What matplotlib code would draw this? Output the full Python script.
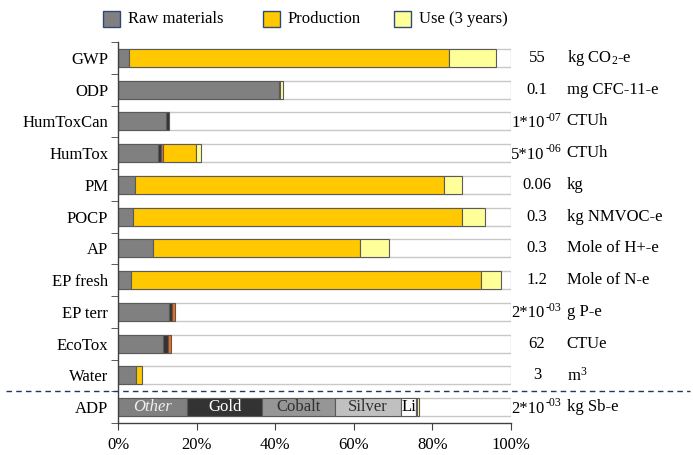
import matplotlib
matplotlib.use("Agg")
import matplotlib.pyplot as plt
from matplotlib.patches import Rectangle
from matplotlib.lines import Line2D
import numpy as np

plt.rcParams['font.family'] = ['Liberation Serif', 'DejaVu Serif']
plt.rcParams['mathtext.default'] = 'regular'

categories = ['GWP', 'ODP', 'HumToxCan', 'HumTox', 'PM', 'POCP', 'AP',
              'EP fresh', 'EP terr', 'EcoTox', 'Water', 'ADP']
raw_other  = [2.8, 40.9, 12.3, 10.3, 4.4, 3.7, 8.9, 3.4, 13.0, 11.5, 4.7, 17.6]
raw_gold   = [0.0, 0.3, 0.6, 0.6, 0.0, 0.0, 0.0, 0.0, 0.8, 1.2, 0.0, 19.1]
raw_cobalt = [0, 0, 0, 0, 0, 0, 0, 0, 0, 0, 0, 18.4]
raw_silver = [0, 0, 0, 0, 0, 0, 0, 0, 0, 0, 0, 16.8]
raw_li     = [0, 0, 0, 0, 0, 0, 0, 0, 0, 0, 0, 3.8]
transport  = [0.0, 0.0, 0.0, 0.6, 0.0, 0.0, 0.0, 0.0, 0.6, 0.9, 0.0, 0.0]
production = [81.4, 0.0, 0.0, 8.4, 78.5, 83.9, 52.8, 88.9, 0.0, 0.0, 1.4, 0.5]
use        = [12.1, 0.8, 0.0, 1.1, 4.7, 5.7, 7.3, 5.1, 0.0, 0.0, 0.0, 0.3]

# value labels: (base, exponent) ; exponent '' when none
value_base = ['55', '0.1', '1*10', '5*10', '0.06', '0.3', '0.3',
              '1.2', '2*10', '62', '3', '2*10']
value_exp = ['', '', '-07', '-06', '', '', '', '', '-03', '', '', '-03']
units = ['kg CO$_2$-e', 'mg CFC-11-e', 'CTUh', 'CTUh', 'kg', 'kg NMVOC-e',
         'Mole of H+-e', 'Mole of N-e', 'g P-e', 'CTUe', 'm$^3$', 'kg Sb-e']
adp_labels = ['Other', 'Gold', 'Cobalt', 'Silver', 'Li']
xticks = [0, 20, 40, 60, 80, 100]
legend_labels = ['Raw materials', 'Production', 'Use (3 years)']

C_RAW = '#808080'
C_GOLD = '#333333'
C_COB = '#969696'
C_SIL = '#C0C0C0'
C_LI = '#FFFFFF'
C_TR = '#FF6A10'
C_PROD = '#FFC800'
C_USE = '#FFFF99'
EDGE = '#5A5A5A'
FS = 12

W, H = 693, 455
fig = plt.figure(figsize=(W/100, H/100), dpi=100)
ax = fig.add_axes([118/W, 1-423/H, 393/W, 381/H])

y = np.arange(len(categories))
h = 0.57
ax.barh(y, [100]*len(y), height=h, color='white', edgecolor='#C8C8C8', linewidth=1.0, zorder=1)

series = [(raw_other, C_RAW), (raw_gold, C_GOLD), (raw_cobalt, C_COB),
          (raw_silver, C_SIL), (raw_li, C_LI), (transport, C_TR),
          (production, C_PROD), (use, C_USE)]
left = np.zeros(len(y))
for vals, col in series:
    v = np.array(vals, dtype=float)
    mask = v > 0
    ax.barh(y[mask], v[mask], left=left[mask], height=h, color=col,
            edgecolor=EDGE, linewidth=0.8, zorder=2)
    left += v

i = categories.index('ADP')
segs = [raw_other[i], raw_gold[i], raw_cobalt[i], raw_silver[i], raw_li[i]]
start = 0
txt_style = [dict(color='#F0F0F0', style='italic'), dict(color='white'),
             dict(color='#303030'), dict(color='#303030'), dict(color='black')]
for lab, w, st in zip(adp_labels, segs, txt_style):
    if lab == 'Li':
        ax.text(start + 0.2, y[i], lab, ha='left', va='center', fontsize=FS, zorder=3, **st)
    else:
        ax.text(start + w/2, y[i], lab, ha='center', va='center', fontsize=FS, zorder=3, **st)
    start += w

ax.set_xlim(0, 100)
ax.set_ylim(len(y) - 0.5, -0.5)
ax.set_xticks(xticks)
ax.set_xticklabels([f'{t}%' for t in xticks], fontsize=FS)
ax.set_yticks(y)
ax.set_yticklabels(categories, fontsize=FS)
ax.set_yticks(np.arange(-0.5, len(y)), minor=True)
ax.tick_params(axis='y', which='major', length=0, pad=7)
ax.tick_params(axis='y', which='minor', length=5, color='#404040', direction='out')
ax.tick_params(axis='x', which='major', length=5, color='#404040', direction='out', pad=5)
for s in ['top', 'right']:
    ax.spines[s].set_visible(False)
for s in ['left', 'bottom']:
    ax.spines[s].set_color('#404040')
    ax.spines[s].set_linewidth(1.0)

for yi, vb, ve, un in zip(y, value_base, value_exp, units):
    if ve:
        ax.text(108.6, yi + 0.05, vb, ha='right', va='center', fontsize=FS, clip_on=False)
        ax.text(108.7, yi - 0.12, ve, ha='left', va='center', fontsize=8.5, clip_on=False)
    else:
        ax.text(106.6, yi, vb, ha='center', va='center', fontsize=FS, clip_on=False)
    ax.text(114.2, yi, un, ha='left', va='center', fontsize=FS, clip_on=False)

ysep = 1 - 391/H
fig.add_artist(Line2D([0.008, 0.995], [ysep, ysep], transform=fig.transFigure,
                      color='#1F3864', linestyle=(0, (4, 3)), linewidth=1.0))

leg_colors = [C_RAW, C_PROD, C_USE]
leg_x = [103, 263, 394]
for lx, col, lab in zip(leg_x, leg_colors, legend_labels):
    fig.add_artist(Rectangle((lx/W, 1-27/H), 17/W, 16/H, transform=fig.transFigure,
                             facecolor=col, edgecolor='#2F4A7A', linewidth=1.0))
    fig.text((lx+25)/W, 1-19/H, lab, ha='left', va='center', fontsize=FS)

fig.savefig('out.png', dpi=100)
